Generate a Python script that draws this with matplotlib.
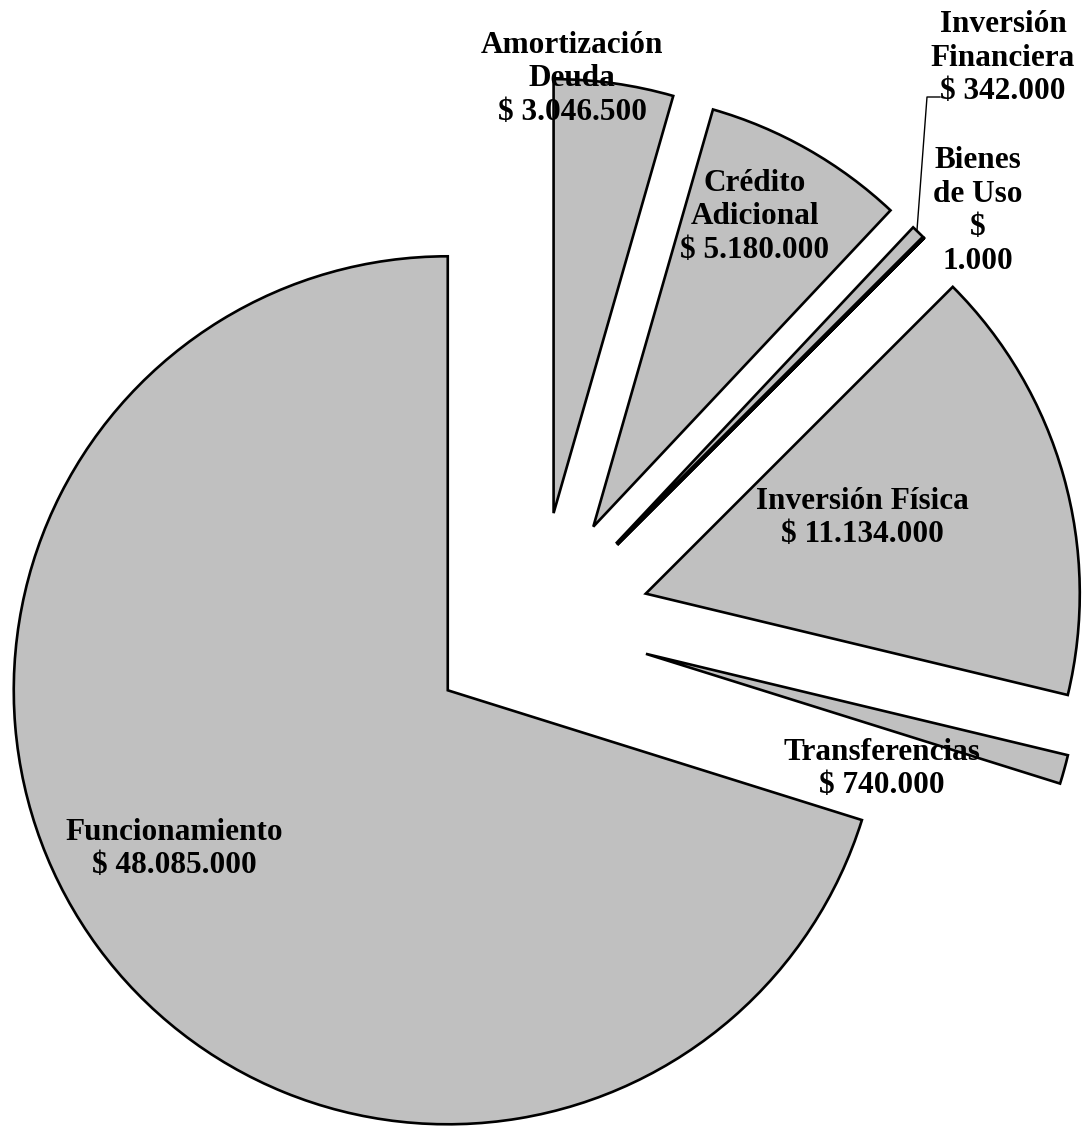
import matplotlib
matplotlib.use("Agg")
import matplotlib.pyplot as plt

# Budget items (pesos), in drawing order counter-clockwise from 12 o'clock
categories = ['Funcionamiento', 'Transferencias', 'Inversión Física', 'Bienes de Uso',
              'Inversión Financiera', 'Crédito Adicional', 'Amortización Deuda']
values = [48085000, 740000, 11134000, 1000, 342000, 5180000, 3046500]
# how each label is broken into lines in the original
label_lines = [['Funcionamiento'], ['Transferencias'], ['Inversión Física'],
               ['Bienes', 'de Uso'], ['Inversión', 'Financiera'],
               ['Crédito', 'Adicional'], ['Amortización', 'Deuda']]

W, H = 1085, 1126
cx, cy, R = 538, 624, 434   # pie centre and radius in pixels

plt.rcParams['font.family'] = ['Liberation Serif', 'DejaVu Serif']

fig = plt.figure(figsize=(W / 100, H / 100), dpi=100)
ax = fig.add_axes([0, 0, 1, 1])

wedges, _ = ax.pie(values, startangle=90, counterclock=True, radius=1.0,
                   explode=[0.258] * len(values),
                   colors=['#C0C0C0'] * len(values),
                   wedgeprops=dict(edgecolor='black', linewidth=1.9))

ax.set_aspect('auto')
ax.set_xlim(-cx / R, (W - cx) / R)
ax.set_ylim((cy - H) / R, cy / R)
ax.axis('off')


def fmt(v):
    return '$ ' + f'{v:,}'.replace(',', '.')


# label centres in pixels (x, y from top)
label_pos = [(174, 849), (882, 769), (862, 518), (978, 211),
             (1003, 58), (755, 217), (572, 79)]

for name, lines, v, (px, py) in zip(categories, label_lines, values, label_pos):
    if name == 'Bienes de Uso':
        txt = '\n'.join(lines + ['$', f'{v:,}'.replace(',', '.')])
    else:
        txt = '\n'.join(lines + [fmt(v)])
    fig.text(px / W, 1 - py / H, txt, ha='center', va='center',
             fontsize=22.5, fontweight='bold', linespacing=1.2, zorder=5)

# leader line for Inversión Financiera
fig.add_artist(plt.Line2D(
    [940 / W, 927 / W, 917 / W],
    [1 - 97 / H, 1 - 97 / H, 1 - 230 / H],
    color='black', linewidth=1.0))

fig.savefig('out.png', dpi=100)
